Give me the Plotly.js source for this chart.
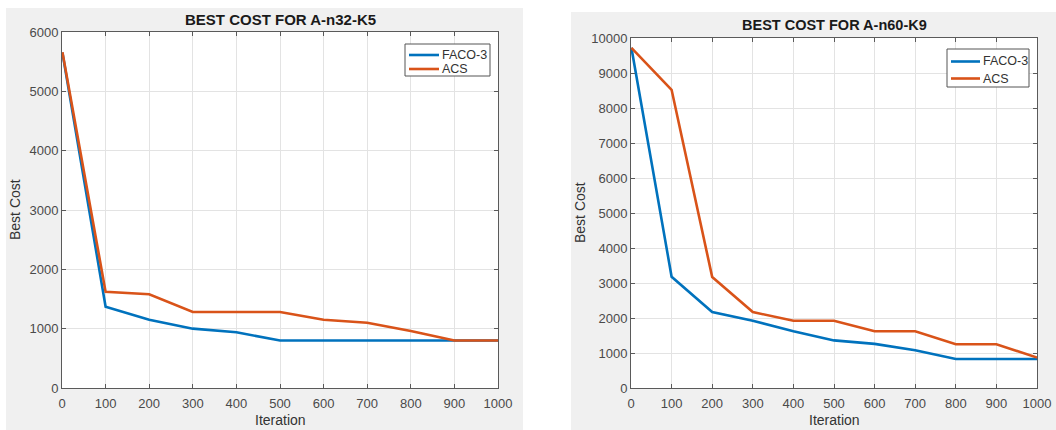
<!DOCTYPE html>
<html>
<head>
<meta charset="utf-8">
<script src="https://cdn.plot.ly/plotly-3.0.1.min.js"></script>
<style>html,body{margin:0;padding:0;background:#fff;}#chart{width:1056px;height:430px;}</style>
</head>
<body>
<div id="chart"></div>
<script>
// Data
const iterations = [1, 100, 200, 300, 400, 500, 600, 700, 800, 900, 1000];
const n32_faco = [5650, 1370, 1150, 1000, 940, 800, 800, 800, 800, 800, 800];
const n32_acs  = [5660, 1620, 1580, 1280, 1280, 1280, 1150, 1100, 960, 800, 800];
const n60_faco = [9720, 3180, 2170, 1920, 1620, 1360, 1260, 1080, 830, 830, 830];
const n60_acs  = [9720, 8520, 3170, 2170, 1920, 1920, 1620, 1620, 1250, 1250, 870];
const seriesNames = ['FACO-3', 'ACS'];
const titles = ['BEST COST FOR A-n32-K5', 'BEST COST FOR A-n60-K9'];
const xTicks = [0, 100, 200, 300, 400, 500, 600, 700, 800, 900, 1000];
const yTicksLeft = [0, 1000, 2000, 3000, 4000, 5000, 6000];
const yTicksRight = [0, 1000, 2000, 3000, 4000, 5000, 6000, 7000, 8000, 9000, 10000];

const W = 1056, H = 430;
const BLUE = '#0072BD', ORANGE = '#D95319';
const COLORS = [BLUE, ORANGE];
const FONT = 'Liberation Sans, Arial, sans-serif';
const LW = 2.6;

const traces = [
  {x: iterations, y: n32_faco, name: seriesNames[0], xaxis: 'x', yaxis: 'y', line: {color: BLUE, width: LW}, mode: 'lines'},
  {x: iterations, y: n32_acs, name: seriesNames[1], xaxis: 'x', yaxis: 'y', line: {color: ORANGE, width: LW}, mode: 'lines'},
  {x: iterations, y: n60_faco, name: seriesNames[0], xaxis: 'x2', yaxis: 'y2', line: {color: BLUE, width: LW}, mode: 'lines'},
  {x: iterations, y: n60_acs, name: seriesNames[1], xaxis: 'x2', yaxis: 'y2', line: {color: ORANGE, width: LW}, mode: 'lines'}
];

function px(x) { return x / W; }
function py(y) { return 1 - y / H; }

const axCommon = {
  showline: true, linecolor: '#5a5a5a', linewidth: 1, mirror: 'ticks',
  ticks: 'inside', ticklen: 4, tickcolor: '#5a5a5a', tickwidth: 1,
  showgrid: true, gridcolor: '#e3e3e3', gridwidth: 1, zeroline: false,
  tickfont: {family: FONT, size: 13, color: '#4a4a4a'}, fixedrange: true, tickformat: 'd'
};

const shapes = [
  {type: 'rect', xref: 'paper', yref: 'paper', x0: px(6), x1: px(523), y0: 0, y1: py(8), fillcolor: '#f0f0f0', line: {width: 0}, layer: 'below'},
  {type: 'rect', xref: 'paper', yref: 'paper', x0: px(571), x1: 1, y0: 0, y1: py(12), fillcolor: '#f0f0f0', line: {width: 0}, layer: 'below'},
  {type: 'rect', xref: 'x domain', yref: 'y domain', x0: 0, x1: 1, y0: 0, y1: 1, fillcolor: '#ffffff', line: {width: 0}, layer: 'below'},
  {type: 'rect', xref: 'x2 domain', yref: 'y2 domain', x0: 0, x1: 1, y0: 0, y1: 1, fillcolor: '#ffffff', line: {width: 0}, layer: 'below'}
];

const annotations = [
  {text: '<b>' + titles[0] + '</b>', xref: 'paper', yref: 'paper', x: px(280), y: py(20), xanchor: 'center', yanchor: 'middle', showarrow: false, font: {family: FONT, size: 15, color: '#1a1a1a'}},
  {text: '<b>' + titles[1] + '</b>', xref: 'paper', yref: 'paper', x: px(834), y: py(25), xanchor: 'center', yanchor: 'middle', showarrow: false, font: {family: FONT, size: 14.5, color: '#1a1a1a'}},
  {text: 'Best Cost', xref: 'paper', yref: 'paper', x: px(15), y: py(210), xanchor: 'center', yanchor: 'middle', textangle: -90, showarrow: false, font: {family: FONT, size: 14, color: '#333'}},
  {text: 'Best Cost', xref: 'paper', yref: 'paper', x: px(580), y: py(213), xanchor: 'center', yanchor: 'middle', textangle: -90, showarrow: false, font: {family: FONT, size: 14, color: '#333'}},
  {text: 'Iteration', xref: 'paper', yref: 'paper', x: px(280), y: py(420), xanchor: 'center', yanchor: 'middle', showarrow: false, font: {family: FONT, size: 14, color: '#333'}},
  {text: 'Iteration', xref: 'paper', yref: 'paper', x: px(834), y: py(420), xanchor: 'center', yanchor: 'middle', showarrow: false, font: {family: FONT, size: 14, color: '#333'}}
];

// Legend boxes (drawn as legend decoration): [left, top, right, bottom, line x0, line x1, row ys]
const legendBoxes = [
  {box: [405, 44, 490, 76], lx: [409, 439], rows: [55, 69]},
  {box: [947, 49, 1029, 87], lx: [951, 980], rows: [61.5, 78.5]}
];
legendBoxes.forEach(function (lg) {
  shapes.push({type: 'rect', xref: 'paper', yref: 'paper', x0: px(lg.box[0]), x1: px(lg.box[2]), y0: py(lg.box[3]), y1: py(lg.box[1]),
    fillcolor: '#ffffff', line: {color: '#555555', width: 1}, layer: 'above'});
  seriesNames.forEach(function (nm, i) {
    shapes.push({type: 'line', xref: 'paper', yref: 'paper', x0: px(lg.lx[0]), x1: px(lg.lx[1]), y0: py(lg.rows[i]), y1: py(lg.rows[i]),
      line: {color: COLORS[i], width: LW}, layer: 'above'});
    annotations.push({text: nm, xref: 'paper', yref: 'paper', x: px(lg.lx[1] + 1), y: py(lg.rows[i]), xanchor: 'left', yanchor: 'middle',
      showarrow: false, font: {family: FONT, size: 12.5, color: '#333'}});
  });
});

const layout = {
  width: W, height: H,
  margin: {l: 0, r: 0, t: 0, b: 0},
  paper_bgcolor: '#ffffff', plot_bgcolor: '#ffffff',
  showlegend: false,
  xaxis: Object.assign({}, axCommon, {domain: [px(62), px(498)], range: [0, 1000], tickvals: xTicks, anchor: 'y', ticklabelstandoff: 3}),
  yaxis: Object.assign({}, axCommon, {domain: [py(388), py(32)], range: [0, 6000], tickvals: yTicksLeft, anchor: 'x'}),
  xaxis2: Object.assign({}, axCommon, {domain: [px(631), px(1037)], range: [0, 1000], tickvals: xTicks, anchor: 'y2', ticklabelstandoff: 3}),
  yaxis2: Object.assign({}, axCommon, {domain: [py(388), py(38)], range: [0, 10000], tickvals: yTicksRight, anchor: 'x2'}),
  shapes: shapes,
  annotations: annotations
};

Plotly.newPlot('chart', traces, layout, {displayModeBar: false, staticPlot: true});
</script>
</body>
</html>
